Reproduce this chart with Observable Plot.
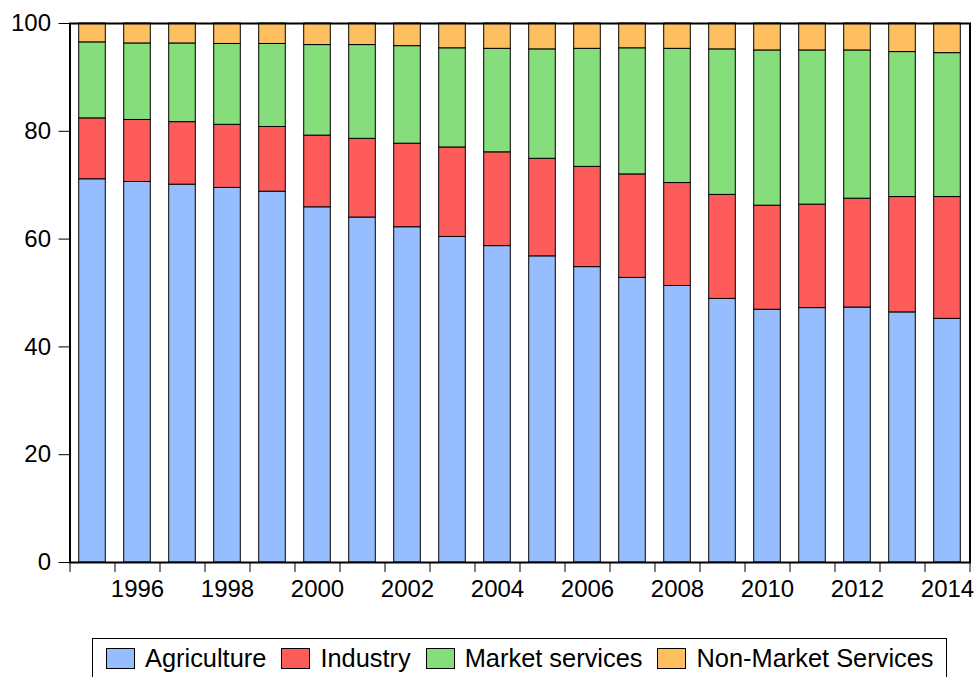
<!DOCTYPE html>
<html>
<head>
<meta charset="utf-8">
<script src="https://cdn.jsdelivr.net/npm/d3@7"></script>
<script src="https://cdn.jsdelivr.net/npm/@observablehq/plot@0.6"></script>
<style>
  html, body { margin: 0; padding: 0; background: #fff; }
  #wrap { position: relative; width: 979px; height: 677px; overflow: hidden; font-family: "Liberation Sans", Arial, sans-serif; }
  #legend { position: absolute; left: 92px; top: 638px; width: 855px; height: 40px; border: 1px solid #000; box-sizing: border-box; display: flex; align-items: center; padding-left: 13px; font-size: 25.4px; color: #000; white-space: nowrap; overflow: hidden; }
  .item { display: flex; align-items: center; margin-right: 15px; flex-shrink: 0; white-space: nowrap; }
  .sw { width: 27px; height: 19px; border: 1px solid #000; margin-right: 10px; flex-shrink: 0; }
</style>
</head>
<body>
<div id="wrap">
  <div id="chart"></div>
  <div id="legend"></div>
</div>
<script>
const years = [1995,1996,1997,1998,1999,2000,2001,2002,2003,2004,2005,2006,2007,2008,2009,2010,2011,2012,2013,2014];
const sectors = ["Agriculture", "Industry", "Market services", "Non-Market Services"];
const agriculture    = [71.1,70.6,70.1,69.5,68.8,65.9,64.0,62.2,60.4,58.7,56.8,54.8,52.8,51.3,48.9,46.9,47.2,47.3,46.4,45.2];
const industry       = [11.3,11.5,11.6,11.7,12.0,13.3,14.6,15.5,16.6,17.4,18.1,18.6,19.2,19.1,19.3,19.3,19.2,20.2,21.4,22.6];
const marketServices = [14.1,14.2,14.6,15.0,15.4,16.8,17.4,18.1,18.4,19.2,20.3,21.9,23.4,24.9,27.0,28.8,28.6,27.5,26.9,26.7];
const nonMarket      = [3.5,3.7,3.7,3.8,3.8,4.0,4.0,4.2,4.6,4.7,4.8,4.7,4.6,4.7,4.8,5.0,5.0,5.0,5.3,5.5];
const yTicks = [0,20,40,60,80,100];
const xLabels = [1996,1998,2000,2002,2004,2006,2008,2010,2012,2014];
const colors = ["#96BEFE", "#FE5B5B", "#86DD7B", "#FEBF61"];

const series = [agriculture, industry, marketServices, nonMarket];
const data = [];
years.forEach((y, i) => {
  sectors.forEach((s, k) => data.push({year: y, sector: s, value: series[k][i]}));
});
const boundaries = d3.range(years[0] - 0.5, years[years.length - 1] + 1, 1);

const chart = Plot.plot({
  width: 979,
  height: 615,
  marginTop: 23,
  marginBottom: 53,
  marginLeft: 69.5,
  marginRight: 9.5,
  style: {fontFamily: "Liberation Sans, Arial, sans-serif", fontSize: "24px", color: "#000", background: "#fff"},
  x: {type: "linear", domain: [years[0] - 0.5, years[years.length - 1] + 0.5], axis: null},
  y: {domain: [0, 100], axis: null},
  color: {domain: sectors, range: colors},
  marks: [
    Plot.rectY(data, {
      x1: d => d.year - 0.5,
      x2: d => d.year + 0.5,
      y: "value",
      fill: "sector",
      stroke: "#000",
      strokeWidth: 1,
      insetLeft: 9.2,
      insetRight: 9.2,
      order: sectors
    }),
    Plot.axisY({ticks: yTicks, tickSize: 11, tickPadding: 8, fontSize: 24, stroke: "#000", label: null}),
    Plot.axisX({ticks: boundaries, tickSize: 10, tickFormat: () => "", stroke: "#000", label: null}),
    Plot.axisX({ticks: xLabels, tickSize: 0, tickPadding: 17, fontSize: 24, tickFormat: d => String(d), label: null}),
    Plot.frame({stroke: "#000", strokeWidth: 2})
  ]
});
document.getElementById("chart").appendChild(chart);

const legend = document.getElementById("legend");
sectors.forEach((s, k) => {
  const it = document.createElement("div");
  it.className = "item";
  const sw = document.createElement("div");
  sw.className = "sw";
  sw.style.background = colors[k];
  const tx = document.createElement("span");
  tx.textContent = s;
  it.appendChild(sw);
  it.appendChild(tx);
  legend.appendChild(it);
});
</script>
</body>
</html>
